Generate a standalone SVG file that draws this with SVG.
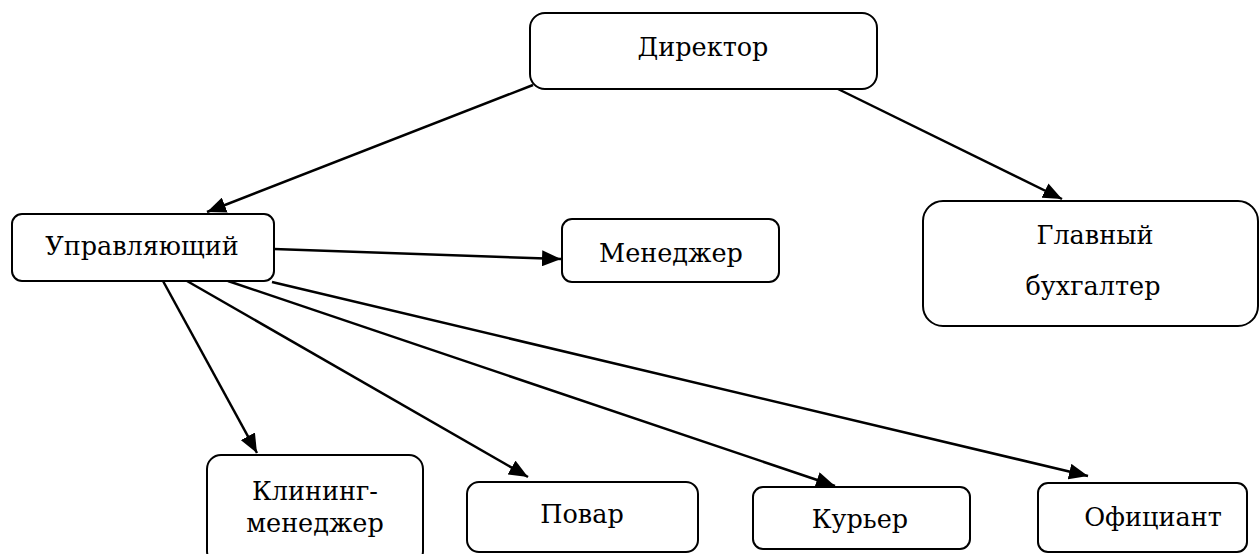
<svg xmlns="http://www.w3.org/2000/svg" width="1259" height="554" viewBox="0 0 1259 554">
<style>
.box{fill:#fff;stroke:#000;stroke-width:2}
.lbl{font-family:"DejaVu Serif","Liberation Serif",serif;font-size:25.5px;fill:#000;text-anchor:middle}
.edge{stroke:#000;stroke-width:2.5;fill:none;marker-end:url(#ah)}
</style>
<defs>
<marker id="ah" markerUnits="userSpaceOnUse" markerWidth="20" markerHeight="16" refX="19" refY="8" orient="auto">
<path d="M0,0 L19,8 L0,16 z" fill="#000"/>
</marker>
</defs>
<rect width="1259" height="554" fill="#fff"/>
<g id="connectors">
<line class="edge" x1="533" y1="85" x2="207" y2="212"/>
<line class="edge" x1="838" y1="89" x2="1062" y2="199"/>
<line class="edge" x1="274" y1="249" x2="561" y2="259"/>
<line class="edge" x1="163" y1="281" x2="257" y2="453"/>
<line class="edge" x1="187" y1="281" x2="528" y2="477"/>
<line class="edge" x1="228" y1="281" x2="835" y2="486"/>
<line class="edge" x1="272" y1="282" x2="1088" y2="476"/>
</g>
<g id="director">
<rect class="box" x="530" y="13" width="347" height="76" rx="15"/>
<text class="lbl" x="703" y="56">Директор</text>
</g>
<g id="manager-main">
<rect class="box" x="12" y="214" width="262" height="67" rx="10"/>
<text class="lbl" x="142" y="255">Управляющий</text>
</g>
<g id="manager">
<rect class="box" x="562" y="219" width="217" height="63" rx="10"/>
<text class="lbl" x="671" y="262">Менеджер</text>
</g>
<g id="accountant">
<rect class="box" x="923" y="201" width="335" height="125" rx="20"/>
<text class="lbl" x="1095" y="244">Главный</text>
<text class="lbl" x="1093" y="295">бухгалтер</text>
</g>
<g id="cleaning">
<rect class="box" x="207" y="455" width="216" height="110" rx="14"/>
<text class="lbl" x="315" y="500">Клининг-</text>
<text class="lbl" x="315" y="532">менеджер</text>
</g>
<g id="cook">
<rect class="box" x="467" y="482" width="231" height="70" rx="12"/>
<text class="lbl" x="582" y="523">Повар</text>
</g>
<g id="courier">
<rect class="box" x="753" y="487" width="217" height="62" rx="10"/>
<text class="lbl" x="860" y="528">Курьер</text>
</g>
<g id="waiter">
<rect class="box" x="1038" y="483" width="209" height="69" rx="10"/>
<text class="lbl" x="1153" y="526">Официант</text>
</g>
</svg>
